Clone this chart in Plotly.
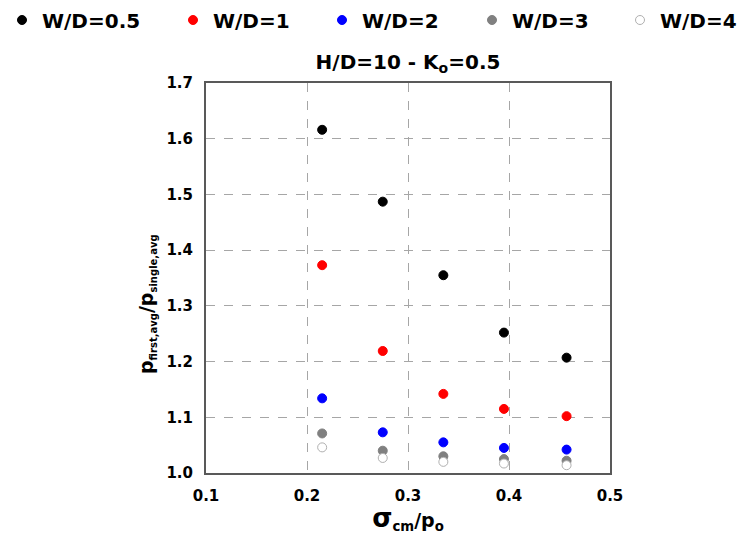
import plotly.graph_objects as go

x_vals = [0.215, 0.275, 0.335, 0.395, 0.457]
series_names = ["W/D=0.5", "W/D=1", "W/D=2", "W/D=3", "W/D=4"]
y_wd05 = [1.616, 1.487, 1.355, 1.252, 1.207]
y_wd1 = [1.373, 1.219, 1.142, 1.115, 1.102]
y_wd2 = [1.134, 1.073, 1.055, 1.045, 1.042]
y_wd3 = [1.071, 1.040, 1.030, 1.025, 1.022]
y_wd4 = [1.046, 1.027, 1.020, 1.017, 1.014]
x_ticks = [0.1, 0.2, 0.3, 0.4, 0.5]
y_ticks = [1.0, 1.1, 1.2, 1.3, 1.4, 1.5, 1.6, 1.7]

series = [y_wd05, y_wd1, y_wd2, y_wd3, y_wd4]
fills = ["black", "#ff0000", "#0000ff", "#808080", "white"]
lines = ["black", "#ff0000", "#0000ff", "#808080", "#b0b0b0"]
legend_ids = ["legend", "legend2", "legend3", "legend4", "legend5"]
legend_left_px = [2, 173, 322, 472, 620]

W, H = 746, 534
L, R, T, B = 206, 136, 83, 61
FONT = "DejaVu Sans"
fig = go.Figure()
for name, ys, fc, lc, lid in zip(series_names, series, fills, lines, legend_ids):
    fig.add_trace(go.Scatter(
        x=x_vals, y=ys, mode="markers", name=name, legend=lid,
        marker=dict(size=9, color=fc, line=dict(color=lc, width=1)),
    ))

legend_layout = {}
for lid, px in zip(legend_ids, legend_left_px):
    legend_layout[lid] = dict(
        orientation="h", x=px / W, y=1 - 20 / H, xanchor="left", yanchor="middle",
        xref="container", yref="container", bgcolor="rgba(0,0,0,0)",
        font=dict(size=20, family=FONT, weight="bold"), itemwidth=30,
    )

ytitle = ("<b>p<sub><span style='font-size:10px'>first,avg</span></sub>/"
          "p<sub><span style='font-size:10px'>single,avg</span></sub></b>")
xtitle = ("<b><span style='font-size:26px'>σ</span><sub>cm</sub>/p<sub>o</sub></b>")

fig.update_layout(
    width=W, height=H,
    margin=dict(l=L, r=R, t=T, b=B, autoexpand=False),
    paper_bgcolor="white", plot_bgcolor="white",
    font=dict(family=FONT, color="black"),
    title=dict(text="<b>H/D=10 - K<sub>o</sub>=0.5</b>", x=408 / W, xanchor="center",
               xref="container", yref="container",
               y=1 - 62 / H, yanchor="middle", font=dict(size=20, family=FONT)),
    showlegend=True,
    annotations=[dict(
        text=ytitle, textangle=-90, xref="paper", yref="paper",
        x=-(L - 147) / (W - L - R), y=0.5 - 26 / (H - T - B),
        xanchor="center", yanchor="middle",
        showarrow=False, font=dict(size=19, family=FONT, color="black"),
    )],
    **legend_layout,
)
fig.update_xaxes(
    range=[0.1, 0.5], tickvals=x_ticks, ticktext=[f"{v:.1f}" for v in x_ticks],
    showgrid=True, gridcolor="#a6a6a6", griddash="dash", gridwidth=1,
    showline=True, linecolor="#595959", linewidth=2, mirror=True,
    ticks="", zeroline=False, automargin=False, ticklabelstandoff=8,
    tickfont=dict(size=15, family=FONT, weight="bold"),
    title=dict(text=xtitle, font=dict(size=19, family=FONT), standoff=2),
)
fig.update_yaxes(
    range=[1.0, 1.7], tickvals=y_ticks, ticktext=[f"{v:.1f}" for v in y_ticks],
    showgrid=True, gridcolor="#a6a6a6", griddash="dash", gridwidth=1,
    showline=True, linecolor="#595959", linewidth=2, mirror=True,
    ticks="", zeroline=False, automargin=False, ticklabelstandoff=8,
    tickfont=dict(size=15, family=FONT, weight="bold"),
)
fig.write_html("out.html", config={"displayModeBar": False},
               post_script="document.body.style.margin='0';")
